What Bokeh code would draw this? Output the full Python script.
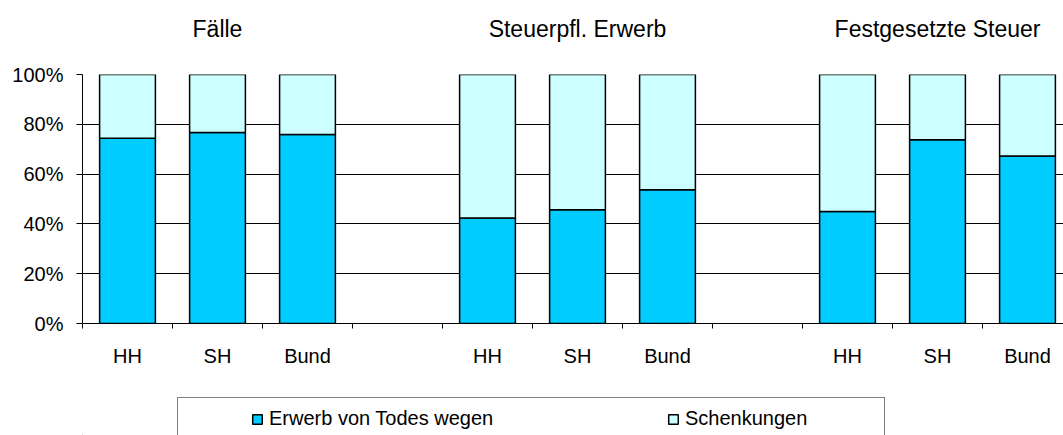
from bokeh.plotting import figure
from bokeh.layouts import column
from bokeh.models import (ColumnDataSource, FixedTicker, LinearAxis, Legend,
                          LegendItem, Range1d)
from bokeh.embed import file_html
from bokeh.resources import INLINE

# ---- data (percent shares) ----
groups = ["Fälle", "Steuerpfl. Erwerb", "Festgesetzte Steuer"]
regions = ["HH", "SH", "Bund"]
erwerb = [74.4, 76.7, 75.9, 42.4, 45.7, 53.7, 45.0, 73.8, 67.3]
schenkungen = [25.6, 23.3, 24.1, 57.6, 54.3, 46.3, 55.0, 26.2, 32.7]
y_ticks = [0, 20, 40, 60, 80, 100]
series_names = ["Erwerb von Todes wegen", "Schenkungen"]
series_colors = ["#00CCFF", "#CCFFFF"]

# ---- derived positions: each group = 3 slots + 1 empty slot ----
slots = len(regions) + 1
xs = [g * slots + r + 0.5 for g in range(len(groups)) for r in range(len(regions))]
labels = [r for _ in groups for r in regions]
group_centers = [g * slots + (len(regions) - 1) / 2 + 0.5 for g in range(len(groups))]
boundaries = list(range(0, len(groups) * slots))

src = ColumnDataSource(dict(x=xs, erwerb=erwerb, schenkungen=schenkungen))

FONT = "Liberation Sans"
W = 1063
LEFT = 82

p = figure(width=W, height=390,
           x_range=Range1d(0, 10.9), y_range=Range1d(0, 100),
           output_backend="svg", toolbar_location=None,
           min_border_left=LEFT, min_border_right=0,
           min_border_top=74, min_border_bottom=67)
p.outline_line_color = None
p.background_fill_color = "white"
p.border_fill_color = "white"

rs = p.vbar_stack(["erwerb", "schenkungen"], x="x", width=0.62, source=src,
                  fill_color=series_colors, line_color="black", line_width=1.5)

# grid
p.xgrid.visible = False
p.ygrid.ticker = FixedTicker(ticks=y_ticks)
p.ygrid.grid_line_color = "black"
p.ygrid.grid_line_width = 1

# y axis
ya = p.yaxis[0]
ya.ticker = FixedTicker(ticks=y_ticks)
ya.major_label_overrides = {t: f"{t}%" for t in y_ticks}
ya.axis_line_color = "black"
ya.major_tick_line_color = "black"
ya.major_tick_out = 6
ya.major_tick_in = 0
ya.minor_tick_line_color = None
ya.major_label_standoff = 13
ya.major_label_text_font = FONT
ya.major_label_text_font_size = "20px"
ya.major_label_text_color = "black"

# x axis
xa = p.xaxis[0]
xa.ticker = FixedTicker(ticks=xs, minor_ticks=boundaries)
xa.major_label_overrides = {x: l for x, l in zip(xs, labels)}
xa.axis_line_color = "black"
xa.major_tick_line_color = None
xa.major_tick_out = 0
xa.major_tick_in = 0
xa.minor_tick_line_color = "black"
xa.minor_tick_out = 5
xa.minor_tick_in = 0
xa.major_label_standoff = 16
xa.major_label_text_font = FONT
xa.major_label_text_font_size = "20px"
xa.major_label_text_color = "black"

# group titles as an axis above
ta = LinearAxis(ticker=FixedTicker(ticks=group_centers),
                major_label_overrides={c: g for c, g in zip(group_centers, groups)})
ta.axis_line_color = None
ta.major_tick_line_color = None
ta.minor_tick_line_color = None
ta.major_tick_out = 0
ta.major_tick_in = 0
ta.major_label_standoff = 33
ta.major_label_text_font = FONT
ta.major_label_text_font_size = "23px"
ta.major_label_text_color = "black"
p.add_layout(ta, "above")

# ---- legend strip below the chart (its frame is aligned with the chart's frame) ----
LH = 45
q = figure(width=W, height=LH, x_range=Range1d(0, 10), y_range=Range1d(0, 10),
           output_backend="svg", toolbar_location=None,
           x_axis_type=None, y_axis_type=None,
           min_border=0, min_border_left=0, min_border_right=0,
           min_border_top=0, min_border_bottom=0)
q.outline_line_color = None
q.xgrid.visible = False
q.ygrid.visible = False
q.background_fill_color = "white"
q.border_fill_color = "white"

# legend proxies (kept outside the visible range)
dummy = q.vbar(x=[-100], top=[0], width=0, fill_alpha=0, line_alpha=0)
leg_rs = [q.vbar(x=[-100], top=[0], width=1, fill_color=c, line_color="black", line_width=1.5)
          for c in series_colors]

leg_box = Legend(items=[LegendItem(label=" ", renderers=[dummy])],
                 location=(177 - LEFT, -14), orientation="horizontal",
                 padding=0, margin=0, spacing=0,
                 glyph_width=1, glyph_height=50,
                 label_standoff=0, label_width=705, label_height=50,
                 label_text_alpha=0,
                 border_line_color="black", border_line_width=1,
                 background_fill_color="white", background_fill_alpha=1)
q.add_layout(leg_box, "center")

leg = Legend(items=[LegendItem(label=n, renderers=[r]) for n, r in zip(series_names, leg_rs)],
             location=(251 - LEFT, 5), orientation="horizontal",
             padding=0, margin=0, spacing=148,
             glyph_width=12, glyph_height=12,
             label_standoff=6, label_width=250, label_height=22,
             label_text_font=FONT, label_text_font_size="20px",
             label_text_color="black",
             border_line_color=None, background_fill_alpha=0)
q.add_layout(leg, "center")

open("out.html", "w").write(file_html(column(p, q, spacing=0), INLINE))
